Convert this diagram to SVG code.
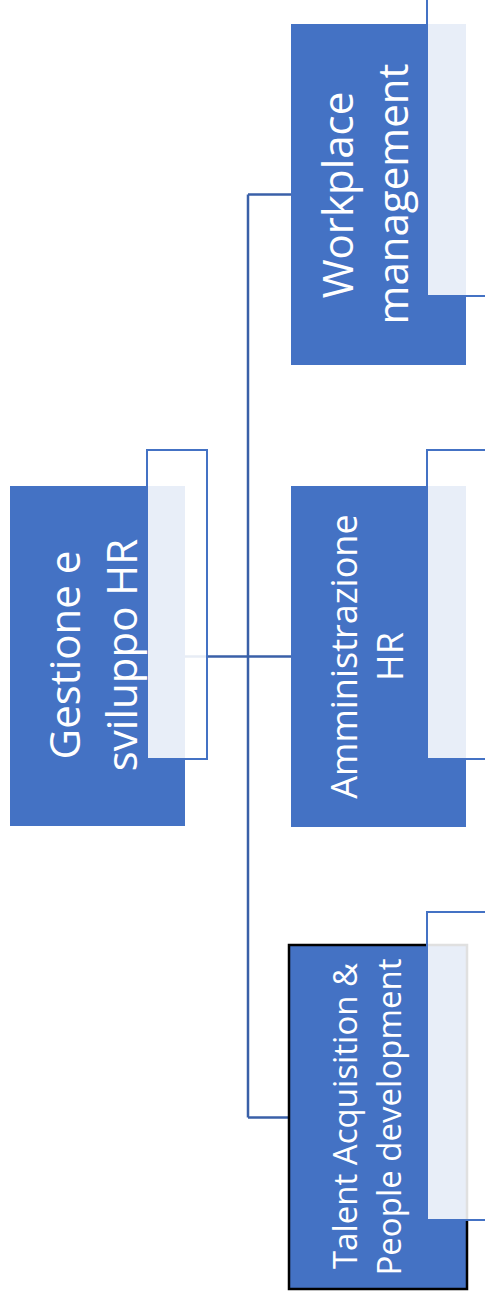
<svg xmlns="http://www.w3.org/2000/svg" width="485" height="1301" viewBox="0 0 485 1301">
  <style>
    .box { fill: #4472C4; }
    .tag { fill: #FFFFFF; fill-opacity: 0.88; stroke: #4472C4; stroke-width: 2; }
    .lbl { fill: #FFFFFF; font-family: "Open Sans", "Noto Sans", "DejaVu Sans", sans-serif; text-anchor: middle; }
    .wire { fill: none; stroke: #3A60A8; stroke-width: 2.5; }
  </style>
  <rect width="485" height="1301" fill="#FFFFFF"/>

  <!-- connectors: trunk from the head node, branching to the three units -->
  <g id="connectors">
    <path class="wire" d="M185 656.5 H291"/>
    <path class="wire" d="M248 194.5 V1117.5"/>
    <path class="wire" d="M248 194.5 H291"/>
    <path class="wire" d="M248 1117.5 H289"/>
  </g>

  <!-- head node -->
  <g id="node-gestione">
    <rect class="box" x="10" y="486" width="175" height="340"/>
    <rect class="tag" x="147" y="450" width="60" height="309"/>
    <text class="lbl" font-size="42" transform="translate(80,655) rotate(-90)">Gestione e</text>
    <text class="lbl" font-size="42" transform="translate(137,655) rotate(-90)">sviluppo HR</text>
  </g>

  <!-- unit: workplace -->
  <g id="node-workplace">
    <rect class="box" x="291" y="24" width="175" height="341"/>
    <rect class="tag" x="427" y="-13" width="60" height="309"/>
    <text class="lbl" font-size="42" transform="translate(353,195) rotate(-90)">Workplace</text>
    <text class="lbl" font-size="42" transform="translate(408,194) rotate(-90)">management</text>
  </g>

  <!-- unit: administration -->
  <g id="node-amministrazione">
    <rect class="box" x="291" y="486" width="175" height="341"/>
    <rect class="tag" x="427" y="450" width="60" height="309"/>
    <text class="lbl" font-size="36" transform="translate(357,656.5) rotate(-90)">Amministrazione</text>
    <text class="lbl" font-size="36" transform="translate(403,656.5) rotate(-90)">HR</text>
  </g>

  <!-- unit: talent acquisition -->
  <g id="node-talent">
    <rect class="box" x="289" y="945" width="178" height="344" stroke="#000000" stroke-width="2.5"/>
    <rect class="tag" x="427" y="912" width="60" height="308"/>
    <text class="lbl" font-size="33" transform="translate(357,1116) rotate(-90)">Talent Acquisition &amp;</text>
    <text class="lbl" font-size="33" transform="translate(401,1117) rotate(-90)">People development</text>
  </g>
</svg>
